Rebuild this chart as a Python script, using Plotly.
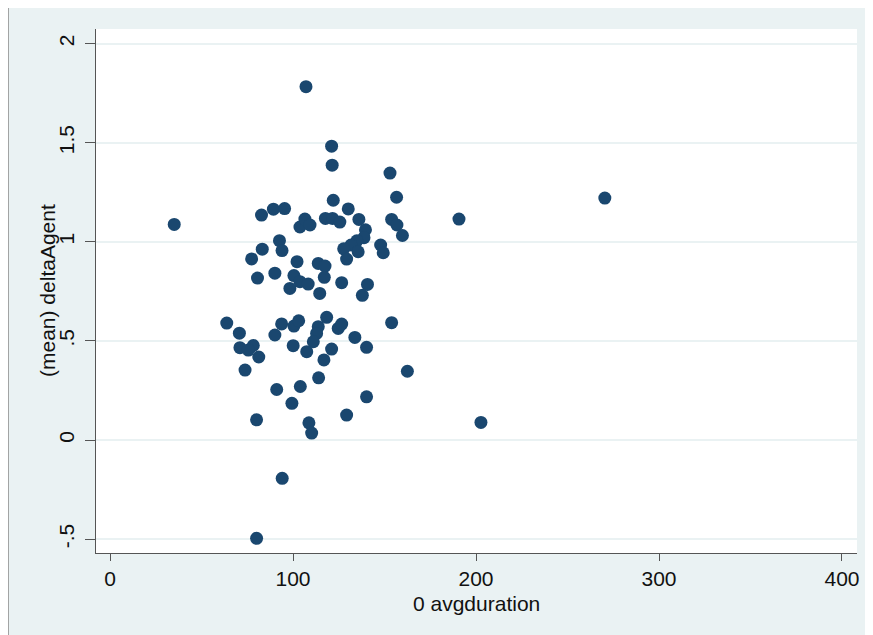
import plotly.graph_objects as go

# avgduration (x) and (mean) deltaAgent (y)
avgduration = [107.1, 121.1, 121.4, 153.0, 270.4, 156.6, 122.0, 130.2, 190.7, 136.0,
               153.9, 35.1, 82.8, 89.3, 95.4, 103.8, 106.5, 109.3, 117.7, 121.6,
               125.6, 156.8, 159.8, 139.6, 138.8, 134.9, 131.7, 127.7, 135.6, 129.3,
               147.9, 149.3, 92.6, 94.0, 83.2, 77.4, 102.2, 113.8, 117.5, 90.1,
               80.6, 100.5, 103.8, 98.3, 108.3, 117.1, 126.6, 114.6, 140.7, 137.9,
               63.8, 70.7, 71.0, 78.3, 75.6, 81.3, 73.8, 90.1, 93.8, 100.5,
               103.1, 100.1, 113.8, 118.4, 112.9, 111.1, 107.5, 124.7, 126.6, 133.8,
               140.2, 121.1, 116.9, 153.9, 162.5, 114.0, 91.1, 104.0, 99.4, 140.2,
               80.1, 129.3, 108.7, 110.2, 202.7, 94.1, 80.1]
delta_agent = [1.783, 1.483, 1.387, 1.347, 1.221, 1.225, 1.210, 1.166, 1.115, 1.113,
               1.113, 1.088, 1.135, 1.165, 1.168, 1.075, 1.115, 1.085, 1.118, 1.118,
               1.100, 1.085, 1.032, 1.061, 1.021, 1.005, 0.984, 0.965, 0.950, 0.913,
               0.984, 0.945, 1.006, 0.956, 0.963, 0.914, 0.900, 0.891, 0.878, 0.842,
               0.817, 0.830, 0.799, 0.765, 0.787, 0.821, 0.794, 0.740, 0.785, 0.730,
               0.590, 0.539, 0.466, 0.477, 0.454, 0.419, 0.353, 0.530, 0.586, 0.575,
               0.602, 0.476, 0.572, 0.619, 0.538, 0.496, 0.446, 0.563, 0.585, 0.518,
               0.468, 0.459, 0.404, 0.592, 0.347, 0.314, 0.255, 0.270, 0.185, 0.218,
               0.102, 0.126, 0.087, 0.035, 0.089, -0.193, -0.496]

x_tickvals = [0, 100, 200, 300, 400]
y_tickvals = [-0.5, 0, 0.5, 1, 1.5, 2]
y_ticktext = ["-.5", "0", ".5", "1", "1.5", "2"]
x_title = "0 avgduration"
y_title = "(mean) deltaAgent"

NAVY = "#1a476f"
BG = "#eaf2f3"
AX = "#555555"
FONT = "Liberation Sans, Arial, Helvetica, sans-serif"
FS = 21

fig = go.Figure()
fig.add_trace(go.Scatter(
    x=avgduration, y=delta_agent, mode="markers",
    marker=dict(color=NAVY, size=13, line=dict(width=0)),
    showlegend=False, hoverinfo="x+y",
))

fig.update_layout(
    width=865, height=627,
    margin=dict(l=88, r=16, t=21, b=82, autoexpand=False),
    paper_bgcolor=BG,
    plot_bgcolor="white",
    font=dict(family=FONT, size=FS, color="#111111"),
    shapes=[
        dict(type="line", xref="paper", yref="paper", layer="above",
             x0=-0.1153, x1=-0.1153, y0=-0.2, y1=1.1,
             line=dict(color="#8a8a8a", width=1)),
    ],
    annotations=[
        dict(text=y_title, xref="paper", yref="paper", x=0, y=0.5,
             xanchor="center", yanchor="middle", xshift=-49, textangle=-90,
             showarrow=False, font=dict(size=FS)),
        dict(text=x_title, xref="paper", yref="paper", x=0.5, y=0,
             xanchor="center", yanchor="middle", yshift=-50,
             showarrow=False, font=dict(size=FS)),
    ],
    xaxis=dict(
        range=[-7.65, 408.2], tickvals=x_tickvals,
        showgrid=False, zeroline=False,
        showline=True, linecolor=AX, linewidth=1.2,
        ticks="outside", ticklen=7, tickcolor=AX, tickwidth=1.2,
        tickfont=dict(size=FS),
        automargin=False,
    ),
    yaxis=dict(
        range=[-0.570, 2.074], tickvals=y_tickvals, ticktext=y_ticktext,
        tickangle=-90,
        showgrid=True, gridcolor=BG, gridwidth=1.5,
        zeroline=False,
        showline=True, linecolor=AX, linewidth=1.2,
        ticks="outside", ticklen=10, tickcolor=AX, tickwidth=1.2,
        tickfont=dict(size=FS), ticklabelstandoff=3,
        automargin=False,
    ),
)

fig.write_html("out.html")
